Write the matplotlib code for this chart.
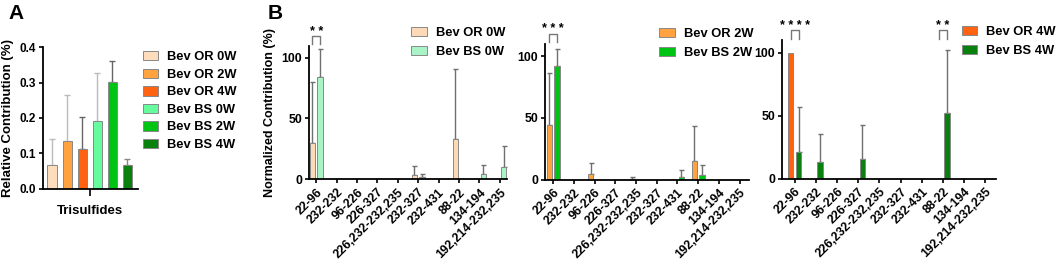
import numpy as np
import matplotlib
matplotlib.use('Agg')
import matplotlib.pyplot as plt
from matplotlib.patches import Patch

plt.rcParams['font.family'] = ['Liberation Sans', 'DejaVu Sans']
plt.rcParams['font.weight'] = 'bold'
plt.rcParams['axes.labelweight'] = 'bold'

# panel A: trisulfides
groups_a = ['Bev OR 0W', 'Bev OR 2W', 'Bev OR 4W', 'Bev BS 0W', 'Bev BS 2W', 'Bev BS 4W']
vals_a = [0.067, 0.135, 0.112, 0.191, 0.301, 0.067]
errs_a = [0.073, 0.130, 0.090, 0.135, 0.061, 0.016]
cols_a = ['#FDDDBB', '#FFA23F', '#FF6312', '#66FB9C', '#00C414', '#0A800F']
ecols_a = ['#bbbbbb', '#bbbbbb', '#666666', '#bbbbbb', '#666666', '#888888']

# panel B: disulfide bonds
cats = ['22-96', '232-232', '96-226', '226-327', '226,232-232,235',
        '232-327', '232-431', '88-22', '134-194', '192,214-232,235']
or_0w = [29.5, 0, 0, 0, 0, 3.9, 0, 33.5, 0, 0]
or_0w_err = [50.5, 0, 0, 0, 0, 7.1, 0, 57.5, 0, 0]
bs_0w = [84, 0, 0, 0, 0, 1.6, 0, 0, 4.4, 9.9]
bs_0w_err = [23.5, 0, 0, 0, 0, 3.1, 0, 0, 7.6, 17.6]

or_2w = [44.4, 0, 4.6, 0, 0.8, 0, 0, 15.5, 0, 0]
or_2w_err = [41.6, 0, 8.9, 0, 1.5, 0, 0, 28, 0, 0]
bs_2w = [92, 0, 0, 0, 0, 0, 2.7, 4.2, 0, 0]
bs_2w_err = [13.6, 0, 0, 0, 0, 0, 5.6, 7.6, 0, 0]

or_4w = [100, 0, 0, 0, 0, 0, 0, 0, 0, 0]
or_4w_err = [0, 0, 0, 0, 0, 0, 0, 0, 0, 0]
bs_4w = [21, 13.2, 0, 15.6, 0, 0, 0, 52, 0, 0]
bs_4w_err = [36, 22.1, 0, 26.8, 0, 0, 0, 50, 0, 0]

fig = plt.figure(figsize=(10.59, 2.69), dpi=100)


def style(ax, size=8.5):
    for s in ['top', 'right']:
        ax.spines[s].set_visible(False)
    for s in ['left', 'bottom']:
        ax.spines[s].set_linewidth(1.3)
    ax.tick_params(width=1.2, length=3, labelsize=size, pad=2)
    for t in ax.get_xticklabels() + ax.get_yticklabels():
        t.set_fontweight('bold')


# ---- A ----
axa = fig.add_axes([0.0406, 0.2985, 0.0897, 0.5257])
xa = np.arange(6) - 2.5
for i in range(6):
    axa.bar(xa[i], vals_a[i], width=0.66, color=cols_a[i], edgecolor='#888888',
            linewidth=0.7, zorder=2)
    axa.errorbar(xa[i], vals_a[i], yerr=[[0], [errs_a[i]]], fmt='none',
                 ecolor=ecols_a[i], elinewidth=1, capsize=2, capthick=1, zorder=1)
axa.set_xlim(-3.13, 3.2)
axa.set_ylim(0, 0.4)
axa.set_yticks([0, 0.1, 0.2, 0.3, 0.4])
axa.set_yticklabels(['0.0', '0.1', '0.2', '0.3', '0.4'])
axa.set_xticks([0])
axa.set_xticklabels(['Trisulfides'])
style(axa)
axa.tick_params(axis='x', length=5, pad=7, labelsize=9.5)
axa.set_ylabel('Relative Contribution (%)', fontsize=9.5, labelpad=4)
axa.legend(handles=[Patch(facecolor=c, edgecolor='#888888', linewidth=0.7, label=g)
                    for c, g in zip(cols_a, groups_a)],
           loc='upper left', bbox_to_anchor=(142.5 / 1059, 1 - 51 / 269),
           bbox_transform=fig.transFigure, frameon=False,
           prop={'size': 9.3, 'weight': 'bold'},
           handlelength=1.2, handleheight=0.75, handletextpad=0.7,
           labelspacing=0.41, borderpad=0, borderaxespad=0)
fig.text(8 / 1059, 1 - 4 / 269, 'A', fontsize=15, fontweight='bold', va='top')
fig.text(268 / 1059, 1 - 4 / 269, 'B', fontsize=15, fontweight='bold', va='top')

# ---- B ----
panels = [
    ([0.2918, 0.3335, 0.187, 0.4972], (-0.35, 9.35),
     or_0w, or_0w_err, bs_0w, bs_0w_err, '#FDDAB6', '#A9F3C6',
     'Bev OR 0W', 'Bev BS 0W', [(0, '* *')], (411 / 1059, 1 - 27 / 269)),
    ([0.5146, 0.3309, 0.1926, 0.507], (-0.4, 9.45),
     or_2w, or_2w_err, bs_2w, bs_2w_err, '#FFA23F', '#00C414',
     'Bev OR 2W', 'Bev BS 2W', [(0, '* * *')], (659 / 1059, 1 - 28 / 269)),
    ([0.7384, 0.3346, 0.2021, 0.517], (-0.6, 9.5),
     or_4w, or_4w_err, bs_4w, bs_4w_err, '#FF6312', '#0A800F',
     'Bev OR 4W', 'Bev BS 4W', [(0, '* * * *'), (7, '* *')], (961.5 / 1059, 1 - 26 / 269)),
]

x = np.arange(len(cats))
off, w = 0.19, 0.26
for pos, xl, ov, oe, bv, be, oc, bc, ol, bl, sigs, lpos in panels:
    ax = fig.add_axes(pos)
    for xs, v, e, c in [(x - off, ov, oe, oc), (x + off, bv, be, bc)]:
        v = np.array(v, float)
        e = np.array(e, float)
        m = v > 0
        ax.bar(xs[m], v[m], width=w, color=c, edgecolor='#888888', linewidth=0.7, zorder=2)
        me = m & (e > 0)
        ax.errorbar(xs[me], v[me], yerr=[np.zeros(me.sum()), e[me]], fmt='none',
                    ecolor='#707070', elinewidth=1, capsize=1.8, capthick=1, zorder=1)
    ax.set_xlim(*xl)
    ax.set_ylim(0, 110)
    ax.set_yticks([0, 50, 100])
    ax.set_xticks(x)
    ax.set_xticklabels(cats, rotation=45, ha='right', rotation_mode='anchor')
    style(ax, 8.8)
    for k, s in sigs:
        ax.plot([k - off, k - off, k + off, k + off], [111, 118, 118, 111], color='#777777',
                lw=1, clip_on=False)
        ax.text(k, 119, s, ha='center', va='baseline', fontsize=9, clip_on=False)
    ax.legend(handles=[Patch(facecolor=oc, edgecolor='#888888', linewidth=0.7, label=ol),
                       Patch(facecolor=bc, edgecolor='#888888', linewidth=0.7, label=bl)],
              loc='upper left', bbox_to_anchor=lpos, bbox_transform=fig.transFigure,
              frameon=False, prop={'size': 9.3, 'weight': 'bold'},
              handlelength=1.2, handleheight=0.75,
              handletextpad=0.7, labelspacing=0.5, borderpad=0, borderaxespad=0)
    if pos[0] < 0.3:
        ax.set_ylabel('Normalized Contribution (%)', fontsize=9, labelpad=4)

fig.savefig('out.png', dpi=100)
